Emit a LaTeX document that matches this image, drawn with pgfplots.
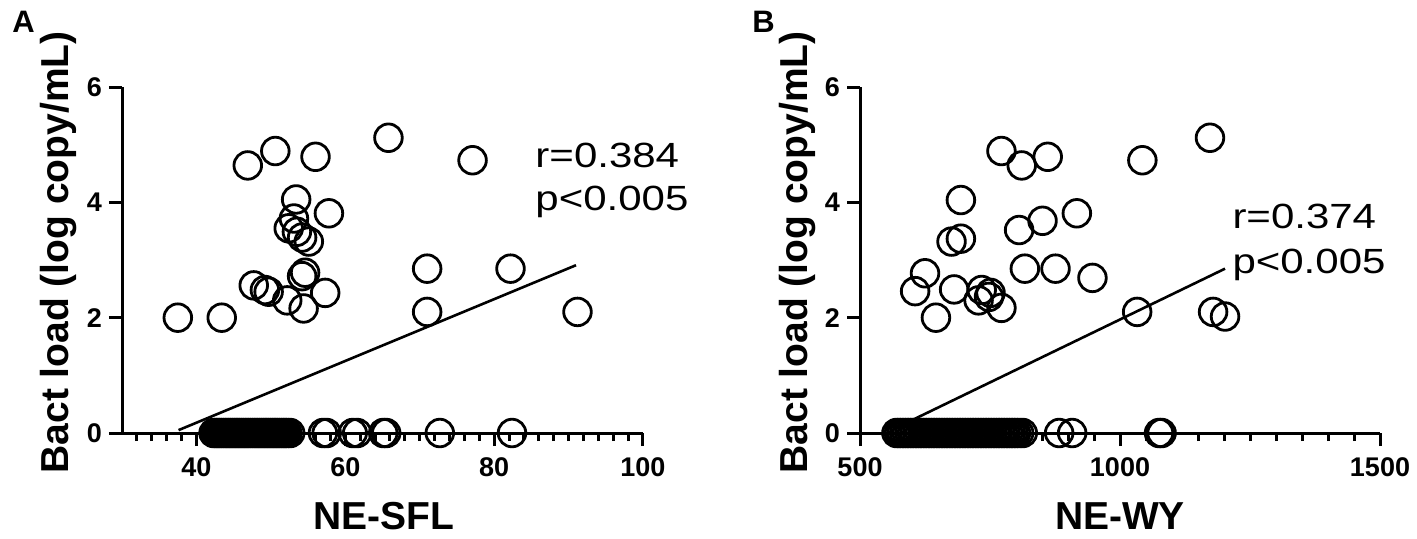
\documentclass[border=0pt]{standalone}
\usepackage{pgfplots}
\pgfplotsset{compat=1.18}
\usepackage{fontspec}
\setmainfont{Liberation Sans}
\pgfplotstableset{col sep=space}
\begin{document}
\begin{tikzpicture}
\path[use as bounding box] (0pt,0pt) rectangle (708.5pt,269pt);
\pgfplotsset{
 prism/.style={
  scale only axis, clip=false,
  axis x line=bottom, axis y line=left,
  axis line style={-, line width=1.5pt},
  every tick/.style={line width=1.5pt, black},
  tick align=outside,
  major tick length=6.5pt, minor tick length=4pt,
  ymin=0, ymax=6, ytick={0,2,4,6},
  ticklabel style={font=\fontsize{13.5}{15}\selectfont\bfseries},
  xticklabel style={yshift=-2.5pt},
  /pgf/number format/assume math mode=true,
  /pgf/number format/1000 sep={},
  height=173pt,
  label style={font=\fontsize{19.5}{22}\selectfont\bfseries},
 },
 dots/.style={only marks, mark=o, mark size=6.9pt, mark options={line width=1.4pt, black}},
 fit/.style={no marks, black, line width=1.3pt},
}
% Panel A
\begin{axis}[prism, at={(61pt,52.5pt)}, anchor=south west, width=260.5pt,
  xmin=30, xmax=100, xtick={40,60,80,100}, minor xtick={32,34,...,98},
  xlabel={NE-SFL}, ylabel={Bact load (log copy/mL)},
  xlabel style={at={(axis description cs:0.503,-0.28)}, anchor=base},
  ylabel style={at={(axis description cs:-0.121,0.522)}, anchor=center},
]
\addplot[dots] table {
x y
37.5 2.0
43.4 2.0
46.9 4.64
50.6 4.89
56.0 4.79
65.8 5.12
77.1 4.73
53.4 4.05
57.8 3.81
53.1 3.72
52.4 3.55
53.5 3.49
54.2 3.39
55.1 3.32
54.2 2.72
54.6 2.78
47.7 2.56
49.2 2.48
49.7 2.45
52.2 2.30
57.3 2.43
54.4 2.16
71.0 2.85
82.2 2.85
71.0 2.10
91.2 2.10
42.3 0
42.6 0
42.9 0
43.2 0
43.5 0
43.8 0
44.1 0
44.4 0
44.7 0
45.0 0
45.3 0
45.6 0
45.9 0
46.2 0
46.5 0
46.8 0
47.1 0
47.4 0
47.7 0
48.0 0
48.3 0
48.6 0
48.9 0
49.2 0
49.5 0
49.8 0
50.1 0
50.4 0
50.7 0
51.0 0
51.3 0
51.6 0
51.9 0
52.2 0
52.6 0
57.0 0
57.5 0
61.0 0
61.6 0
65.1 0
65.5 0
72.7 0
82.4 0
};
\addplot[fit] coordinates {(37.6,0.05) (91.0,2.91)};
\end{axis}
% Panel B
\begin{axis}[prism, at={(430pt,52.5pt)}, anchor=south west, width=260pt,
  xmin=500, xmax=1500, xtick={500,1000,1500}, minor xtick={550,600,...,1450},
  xlabel={NE-WY}, ylabel={Bact load (log copy/mL)},
  xlabel style={at={(axis description cs:0.5,-0.28)}, anchor=base},
  ylabel style={at={(axis description cs:-0.121,0.522)}, anchor=center},
]
\addplot[dots] table {
x y
772 4.89
811 4.64
861 4.79
1043 4.73
1173 5.12
694 4.04
676 3.32
694 3.37
806 3.52
851 3.68
917 3.81
625 2.77
606 2.46
681 2.49
734 2.48
751 2.43
728 2.30
748 2.36
772 2.17
646 2.00
817 2.85
876 2.85
947 2.69
1033 2.10
1179 2.10
1202 2.02
570 0
575 0
580 0
585 0
590 0
595 0
600 0
605 0
610 0
615 0
620 0
625 0
630 0
635 0
640 0
645 0
650 0
655 0
660 0
665 0
670 0
675 0
680 0
685 0
690 0
695 0
700 0
705 0
710 0
715 0
720 0
725 0
730 0
735 0
740 0
745 0
750 0
755 0
760 0
765 0
770 0
775 0
780 0
785 0
790 0
795 0
800 0
806 0
813 0
883 0
908 0
1075 0
1080 0
};
\addplot[fit] coordinates {(565,0.07) (1202,2.85)};
\end{axis}
% annotations
\begin{scope}[every node/.style={inner sep=0pt, font=\fontsize{17.5}{20}\selectfont, xscale=1.2}]
\node[anchor=base west] at (267.5pt,185.5pt) {r=0.384};
\node[anchor=base west] at (267.5pt,164pt) {p<0.005};
\node[anchor=base west] at (616pt,155pt) {r=0.374};
\node[anchor=base west] at (616pt,132.5pt) {p<0.005};
\end{scope}
\node[anchor=base west, inner sep=0pt, font=\fontsize{15.5}{18}\selectfont\bfseries] at (6pt,253pt) {A};
\node[anchor=base west, inner sep=0pt, font=\fontsize{15.5}{18}\selectfont\bfseries] at (376pt,253pt) {B};
\end{tikzpicture}
\end{document}
